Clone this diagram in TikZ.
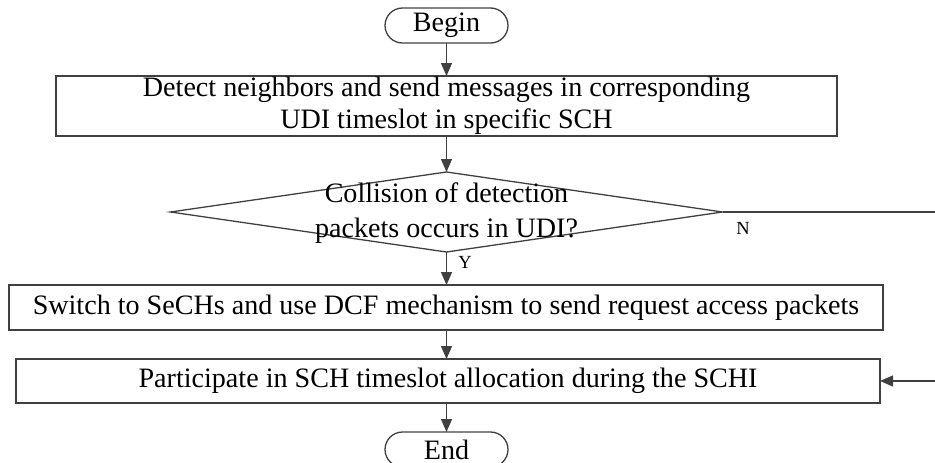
\documentclass[tikz,border=0pt]{standalone}
\usepackage{fontspec}
\setmainfont{Liberation Serif}
\usetikzlibrary{shapes.geometric,arrows.meta}
\definecolor{linegray}{HTML}{404040}
\tikzset{
  base/.style={draw=linegray, line width=1.3pt, inner sep=0pt, outer sep=0pt, text=black,
               font=\fontsize{28.1}{32}\selectfont},
  terminal/.style={base, rounded corners=17.5pt, minimum width=123pt, minimum height=35pt},
  process/.style={base, rectangle, align=center},
  decision/.style={draw=linegray, line width=1.3pt, shape=diamond, inner sep=0pt, outer sep=0pt,
                   minimum width=552pt, minimum height=80pt},
  dtext/.style={align=center, font=\fontsize{28.1}{35}\selectfont},
  lbl/.style={font=\fontsize{18.5}{20}\selectfont, inner sep=0pt},
  arr/.style={draw=linegray, line width=1.3pt, -{Triangle[length=13pt,width=11pt]}},
}
\begin{document}
\begin{tikzpicture}[x=1pt,y=-1pt]
\useasboundingbox (0,0) rectangle (935,463);
\node[terminal] (begin) at (446.5,25.5) {Begin};
\node[process, minimum width=781pt, minimum height=60pt] (r1) at (446.5,106)
  {Detect neighbors and send messages in corresponding\\UDI timeslot in specific SCH};
\node[decision] (d) at (446.5,212) {};
\node[dtext] (dt) at (446.5,213) {Collision of detection\\packets occurs in UDI?};
\node[process, minimum width=874pt, minimum height=45pt] (r3) at (446,307.5)
  {Switch to SeCHs and use DCF mechanism to send request access packets};
\node[process, minimum width=864pt, minimum height=44pt] (r4) at (448,381)
  {Participate in SCH timeslot allocation during the SCHI};
\node[terminal] (end) at (446.5,449.5) {End};
\node[lbl] (n) at (743,228) {N};
\node[lbl] (y) at (465,262) {Y};
\coordinate (turn) at (941,212);
\draw[arr] (begin.south) -- (begin.south |- r1.north);
\draw[arr] (r1.south) -- (r1.south |- d.north);
\draw[arr] (d.south) -- (d.south |- r3.north);
\draw[arr] (r3.south -| begin) -- (begin |- r4.north);
\draw[arr] (r4.south -| begin) -- (begin |- end.north);
\draw[arr] (d.east) -- (turn) |- (r4.east);
\end{tikzpicture}
\end{document}
